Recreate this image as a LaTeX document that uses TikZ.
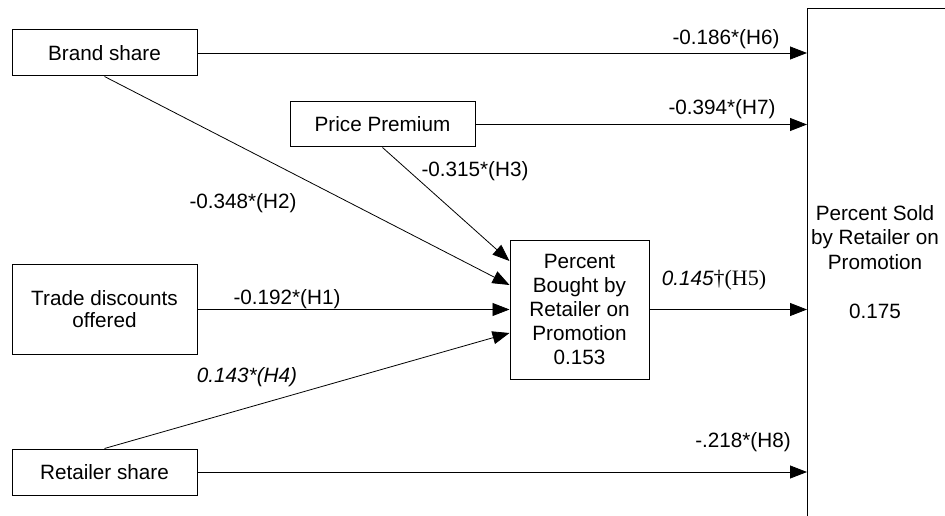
\documentclass[tikz,border=0pt]{standalone}
\usepackage{fontspec}
\setmainfont{Liberation Sans}
\newfontfamily\seriffont{Liberation Serif}
\usetikzlibrary{arrows.meta}
\begin{document}
\begin{tikzpicture}[x=1pt,y=-1pt,
  every node/.style={font=\fontsize{20.7}{24}\selectfont, inner sep=0pt},
  varbox/.style={draw=black, line width=1pt, minimum width=185pt, align=center},
  link/.style={line width=0.8pt, -{Triangle[length=17pt,width=13pt]}},
  coef/.style={anchor=center}]
\useasboundingbox (0,0) rectangle (945,516);
\clip (0,0) rectangle (945,516);
% nodes
\node[varbox, minimum height=46pt] (brand) at (104.5,53) {Brand share};
\node[varbox, minimum width=185pt, minimum height=45pt] (price) at (382.5,124.5) {Price Premium};
\node[varbox, minimum height=90pt, align=center, font=\fontsize{20.7}{22}\selectfont] (trade) at (104.5,309.5) {Trade discounts\\offered};
\node[varbox, minimum height=46pt] (retail) at (104.5,472) {Retailer share};
\node[draw=black, line width=1pt, minimum width=139pt, minimum height=139pt, align=center] (center) at (579.5,309.5) {Percent\\Bought by\\Retailer on\\Promotion\\0.153};
\node[draw=black, line width=1pt, minimum width=300pt, minimum height=600pt, anchor=north west] (sold) at (807,8) {};
\node[align=center, font=\fontsize{20.7}{24.5}\selectfont] (soldtxt) at (875,262) {Percent Sold\\by Retailer on\\Promotion\\[24.5pt]0.175};
% connectors
\draw[link] (brand.east) -- (sold.west |- brand.east);
\draw[link] (price.east) -- (sold.west |- price.east);
\draw[link] (center.east) -- (sold.west |- center.east);
\draw[link] (retail.east) -- (sold.west |- retail.east);
\draw[link] (brand.south) -- ([yshift=24.5pt]center.west);
\draw[link] (price.south) -- ([yshift=48.5pt]center.west);
\draw[link] (trade.east) -- (center.west);
\draw[link] (retail.north) -- ([yshift=-23.5pt]center.west);
% coefficients
\node[coef] (h6) at (726,39) {-0.186*(H6)};
\node[coef] (h7) at (722,109) {-0.394*(H7)};
\node[coef] (h3) at (475,171) {-0.315*(H3)};
\node[coef] (h2) at (243,203) {-0.348*(H2)};
\node[coef] (h1) at (287,299) {-0.192*(H1)};
\node[coef] (h5) at (714,280) {\itshape 0.145\seriffont\upshape\fontsize{22}{24}\selectfont †(H5)};
\node[coef] (h4) at (247,377) {\itshape 0.143*(H4)};
\node[coef] (h8) at (743,442) {-.218*(H8)};
\end{tikzpicture}
\end{document}
